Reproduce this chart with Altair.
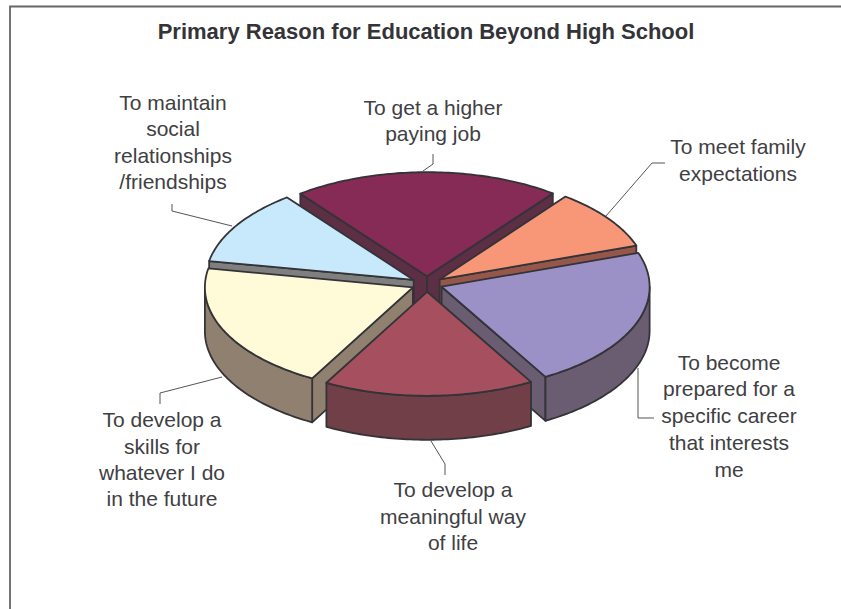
import math
import altair as alt

# Survey shares, clockwise from the top slice (percent of responses)
reasons = ["higher paying job", "family expectations", "specific career",
           "meaningful way of life", "skills for the future", "social relationships"]
shares = [20.8, 9.4, 22.0, 16.4, 19.9, 11.7]
top_colors = ["#852b56", "#f79777", "#9b91c6", "#a6505f", "#fffbd8", "#c7e9fb"]
wall_colors = ["#5c2f45", "#96574b", "#6a5d72", "#713f47", "#908070", "#7f7f7f"]

# Exploded slices are painted back to front
paint_order = [0, 1, 5, 2, 4, 3]

title_text = "Primary Reason for Education Beyond High School"
label_lines = [
    (433, 109, "To get a higher"), (433, 135, "paying job"),
    (738, 148, "To meet family"), (738, 175, "expectations"),
    (729, 364, "To become"), (729, 390, "prepared for a"), (729, 417, "specific career"),
    (729, 444, "that interests"), (729, 471, "me"),
    (453, 491, "To develop a"), (453, 518, "meaningful way"), (453, 544, "of life"),
    (162, 421, "To develop a"), (162, 448, "skills for"),
    (162, 474, "whatever I do"), (162, 500, "in the future"),
    (173, 104, "To maintain"), (173, 130, "social"),
    (173, 157, "relationships"), (173, 183, "/friendships"),
]
leaders = [
    [(423, 171), (433, 164), (433, 154)],
    [(606, 216), (652, 163), (665, 163)],
    [(638, 368), (638, 418), (654, 418)],
    [(431, 441), (445, 464), (445, 475)],
    [(222, 377), (160, 393), (160, 404)],
    [(232, 226), (172, 211), (172, 204)],
]

W, H = 841, 609
CX, CY, RX, RY = 427, 284, 208, 104
DEPTH, EXPLODE = 44, 0.075
START = -37.5


def rim(t, cx, cy, drop=0):
    r = math.radians(t)
    return [round(cx + RX * math.sin(r), 2), round(cy - RY * math.cos(r) + drop, 2)]


def sweep(t0, t1):
    steps = max(2, int(t1 - t0))
    return [t0 + (t1 - t0) * k / steps for k in range(steps + 1)]


def feature(ring, fill):
    return {"type": "Feature", "properties": {"fill": fill},
            "geometry": {"type": "Polygon", "coordinates": [ring + [ring[0]]]}}


total = sum(shares)
angles = [START]
for s in shares:
    angles.append(angles[-1] + s / total * 360)

faces = []
for i in paint_order:
    t0, t1 = angles[i], angles[i + 1]
    mid = math.radians((t0 + t1) / 2)
    cx = CX + RX * EXPLODE * math.sin(mid)
    cy = CY - RY * EXPLODE * math.cos(mid)
    apex = [round(cx, 2), round(cy, 2)]

    # Radial cut walls, only where they face the viewer
    for t, side in ((t0, -1), (t1, 1)):
        if RX * math.sin(math.radians(t)) * side > 0:
            b = rim(t, cx, cy)
            faces.append(feature([apex, b, [b[0], b[1] + DEPTH], [apex[0], apex[1] + DEPTH]],
                                 wall_colors[i]))

    # Outer wall covers only the near half of the rim
    w0, w1 = max(t0, 90), min(t1, 270)
    if w1 > w0:
        ts = sweep(w0, w1)
        faces.append(feature([rim(t, cx, cy) for t in ts]
                             + [rim(t, cx, cy, DEPTH) for t in reversed(ts)], wall_colors[i]))

    faces.append(feature([apex] + [rim(t, cx, cy) for t in sweep(t0, t1)], top_colors[i]))

x_scale = alt.Scale(domain=[0, W], range=[0, W])
y_scale = alt.Scale(domain=[0, H], range=[0, H])
px = alt.X("x:Q", scale=x_scale, axis=None)
py = alt.Y("y:Q", scale=y_scale, axis=None)

pie = alt.Chart(alt.Data(values=faces)).mark_geoshape(
    stroke="#333338", strokeWidth=1.8, strokeJoin="round"
).encode(fill=alt.Fill("properties.fill:N", scale=None)).project(
    type="identity", scale=1, translate=[0, 0]
)

frame = alt.Chart(alt.Data(values=[
    {"x": W, "y": 6.5, "o": 0}, {"x": 10, "y": 6.5, "o": 1}, {"x": 10, "y": H, "o": 2},
])).mark_line(color="#666666", strokeWidth=1.8).encode(x=px, y=py, order="o:Q")

leader_rows = [{"x": p[0], "y": p[1], "k": n, "o": m}
               for n, path in enumerate(leaders) for m, p in enumerate(path)]
leader_marks = alt.Chart(alt.Data(values=leader_rows)).mark_line(
    color="#555555", strokeWidth=1
).encode(x=px, y=py, detail="k:N", order="o:Q")

labels = alt.Chart(alt.Data(values=[{"x": a, "y": b, "t": c} for a, b, c in label_lines])).mark_text(
    font="Liberation Sans", fontSize=21, color="#404043", baseline="middle", align="center"
).encode(x=px, y=py, text="t:N")

title = alt.Chart(alt.Data(values=[{"x": 426, "y": 32, "t": title_text}])).mark_text(
    font="Liberation Sans", fontSize=22, fontWeight="bold", color="#333338",
    baseline="middle", align="center"
).encode(x=px, y=py, text="t:N")

chart = alt.layer(frame, leader_marks, pie, labels, title).properties(
    width=W, height=H, padding=0,
    autosize=alt.AutoSizeParams(type="none"),
    background="white",
).configure_view(stroke=None)

chart.save("out.html", embed_options={"renderer": "svg", "actions": False})
